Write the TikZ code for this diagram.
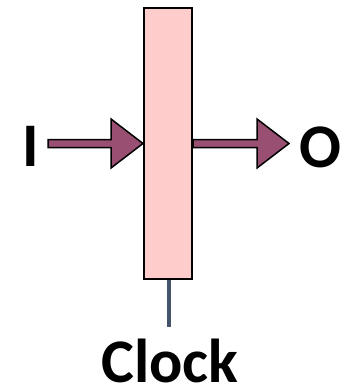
\documentclass[tikz,border=0pt]{standalone}
\usepackage{fontspec}
\setmainfont{Carlito}
\usetikzlibrary{calc}
\definecolor{regfill}{RGB}{255,204,204}
\definecolor{plum}{RGB}{152,79,114}
\definecolor{clkc}{RGB}{68,84,106}
% block arrow from point #1 to tip #2
\newcommand\blkarrow[2]{%
  \draw[blockarr] ($(#1)+(0,4)$) -- ($(#2)+(-32,4)$) -- ($(#2)+(-32,24.5)$) -- (#2)
    -- ($(#2)+(-32,-24.5)$) -- ($(#2)+(-32,-4)$) -- ($(#1)+(0,-4)$) -- cycle;}
\begin{document}
\begin{tikzpicture}[x=1pt,y=-1pt,
  every node/.style={font=\fontsize{62}{70}\selectfont\bfseries, inner sep=0},
  regbox/.style={draw, line width=2pt, fill=regfill, minimum width=48pt, minimum height=271pt},
  blockarr/.style={draw, line width=1.5pt, fill=plum, line join=miter},
  clkline/.style={draw=clkc, line width=3.5pt}]
  \useasboundingbox (0,0) rectangle (355,388);
  \node[regbox] (reg) at (168,143.5) {};
  \node[anchor=base] (in) at (30.5,166) {I};
  \node[anchor=base] (out) at (320,167) {O};
  \node[anchor=base] (clk) at (170,382.5) {Clock};
  \coordinate (inS) at (48,143.5);
  \coordinate (outE) at (289,143.5);
  \coordinate (clkT) at (169,327);
  \blkarrow{inS}{reg.west}
  \blkarrow{reg.east}{outE}
  \draw[clkline] (reg.south -| clkT) -- (clkT);
\end{tikzpicture}
\end{document}
